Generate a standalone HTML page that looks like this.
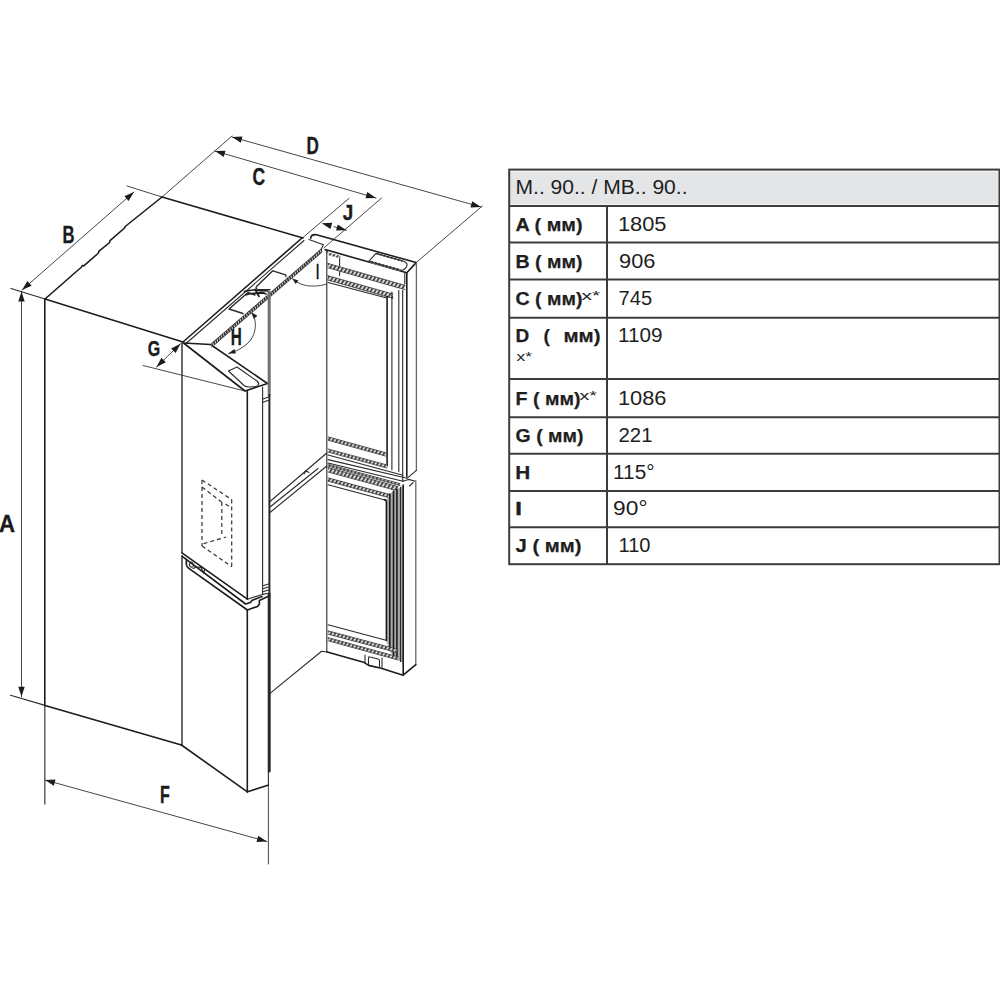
<!DOCTYPE html>
<html><head><meta charset="utf-8">
<style>
html,body{margin:0;padding:0;background:#fff;width:1000px;height:1000px;overflow:hidden}
svg{position:absolute;left:0;top:0}
text{font-family:"Liberation Sans",sans-serif;fill:#1e1e1e}
.lb{font-weight:bold;font-size:19px;stroke:#1e1e1e;stroke-width:0.25}
.vl{font-size:19.5px}
.sup{font-size:12px}
.t{stroke:#484848;stroke-width:1}
.k{stroke:#1c1c1c;stroke-width:1.6}
.m{stroke:#2a2a2a;stroke-width:1.1}
.m2{stroke:#2a2a2a;stroke-width:1.4}
.g{stroke:#222;stroke-width:3.4;stroke-dasharray:1.7 0.8;stroke-linecap:butt}
.g3{stroke:#707070;stroke-width:3}
.fx{stroke:#555;stroke-width:1.4}
.k2{stroke:#2a2a2a;stroke-width:2}
.k3{stroke:#2a2a2a;stroke-width:3}
.gl{stroke:#6a6a6a;stroke-width:1.3}
.hbp{fill:url(#hp);stroke:none}
.hbe{fill:none;stroke:#2a2a2a;stroke-width:0.7}
.h{stroke:#333;stroke-width:2.4;stroke-dasharray:1.5 1.3;stroke-linecap:butt}
.dsh{stroke:#333;stroke-width:1.2;stroke-dasharray:4 3;stroke-linecap:butt}
.ah{fill:#1c1c1c;stroke:none}
.lab{font-weight:bold;fill:#1a1a1a;stroke:#1a1a1a;stroke-width:0.35}
</style></head><body>
<svg width="1000" height="1000" viewBox="0 0 1000 1000">
<defs><pattern id="hp" width="3.6" height="12" patternUnits="userSpaceOnUse" patternTransform="rotate(32)"><rect x="0" y="0" width="1.45" height="12" fill="#2a2a2a"/></pattern><pattern id="hp2" width="2.6" height="12" patternUnits="userSpaceOnUse" patternTransform="rotate(-20)"><rect x="0" y="0" width="1.6" height="12" fill="#262626"/></pattern></defs>
<!-- TABLE -->
<g id="table">
<rect x="509.2" y="169.6" width="490.3" height="36.3" fill="#f3f4f6"/>
<rect x="509.2" y="172" width="490.3" height="31.8" fill="#e4e5e7"/>
<g stroke="#3c3c3c" stroke-width="2" fill="none">
<rect x="509.2" y="169.6" width="490.3" height="394.6"/>
<line x1="509" y1="205.9" x2="1000" y2="205.9"/>
<line x1="509" y1="242.6" x2="1000" y2="242.6"/>
<line x1="509" y1="279.6" x2="1000" y2="279.6"/>
<line x1="509" y1="317.8" x2="1000" y2="317.8"/>
<line x1="509" y1="379" x2="1000" y2="379"/>
<line x1="509" y1="417.2" x2="1000" y2="417.2"/>
<line x1="509" y1="453.8" x2="1000" y2="453.8"/>
<line x1="509" y1="491" x2="1000" y2="491"/>
<line x1="509" y1="527.2" x2="1000" y2="527.2"/>
<line x1="607" y1="206" x2="607" y2="564"/>
</g>
<text class="vl" x="515.5" y="194" textLength="172.0" lengthAdjust="spacingAndGlyphs">M.. 90.. / MB.. 90..</text>
<text class="lb" x="515.5" y="231" textLength="67.0" lengthAdjust="spacingAndGlyphs">A ( мм)</text>
<text class="vl" x="617.9" y="231" textLength="48.6" lengthAdjust="spacingAndGlyphs">1805</text>
<text class="lb" x="515.5" y="267.5" textLength="67.0" lengthAdjust="spacingAndGlyphs">B ( мм)</text>
<text class="vl" x="619.1" y="267.5" textLength="36.4" lengthAdjust="spacingAndGlyphs">906</text>
<text class="lb" x="515.5" y="305" textLength="67.0" lengthAdjust="spacingAndGlyphs">C ( мм)</text>
<text class="sup" x="581.5" y="300" textLength="18.5" lengthAdjust="spacingAndGlyphs">x*</text>
<text class="vl" x="618.5" y="305" textLength="33.6" lengthAdjust="spacingAndGlyphs">745</text>
<text class="lb" x="515.5" y="342">D</text>
<text class="lb" x="543.5" y="342">(</text>
<text class="lb" x="563.5" y="342" textLength="37.0" lengthAdjust="spacingAndGlyphs">мм)</text>
<text class="sup" x="516.5" y="360.5" textLength="15.5" lengthAdjust="spacingAndGlyphs">x*</text>
<text class="vl" x="617.9" y="342" textLength="44.6" lengthAdjust="spacingAndGlyphs">1109</text>
<text class="lb" x="515.5" y="404.5" textLength="65.0" lengthAdjust="spacingAndGlyphs">F ( мм)</text>
<text class="sup" x="579.5" y="399.5" textLength="17.5" lengthAdjust="spacingAndGlyphs">x*</text>
<text class="vl" x="617.9" y="404.5" textLength="48.6" lengthAdjust="spacingAndGlyphs">1086</text>
<text class="lb" x="515.5" y="442" textLength="68.0" lengthAdjust="spacingAndGlyphs">G ( мм)</text>
<text class="vl" x="618.5" y="442" textLength="34.0" lengthAdjust="spacingAndGlyphs">221</text>
<text class="lb" x="515.3" y="479" textLength="15" lengthAdjust="spacingAndGlyphs">H</text>
<text class="vl" x="613.1" y="479" textLength="41.4" lengthAdjust="spacingAndGlyphs">115°</text>
<text class="lb" x="515.2" y="515" textLength="6.6" lengthAdjust="spacingAndGlyphs" style="stroke:#1e1e1e;stroke-width:0.5">I</text>
<text class="vl" x="613.1" y="515" textLength="34.4" lengthAdjust="spacingAndGlyphs">90°</text>
<text class="lb" x="515.5" y="552" textLength="66.0" lengthAdjust="spacingAndGlyphs">J ( мм)</text>
<text class="vl" x="618.5" y="552" textLength="32.0" lengthAdjust="spacingAndGlyphs">110</text>
</g>
<!-- DIAGRAM -->
<g id="diagram" fill="none" stroke-linejoin="round" stroke-linecap="round">
<line class="t" x1="21.5" y1="291.5" x2="21.5" y2="696.8"/>
<path class="ah" d="M21.5,291.5 L24.7,301.5 L18.3,301.5 Z"/>
<path class="ah" d="M21.5,696.8 L18.3,686.8 L24.7,686.8 Z"/>
<line class="m" x1="11.0" y1="288.5" x2="45.0" y2="299.0"/>
<line class="m" x1="10.5" y1="695.2" x2="45.0" y2="705.4"/>
<text class="lab" transform="translate(-1.00,532.00) scale(0.902,1)" font-size="24.64">A</text>
<line class="t" x1="22.0" y1="290.0" x2="134.0" y2="192.0"/>
<path class="ah" d="M22.0,290.0 L27.4,281.0 L31.6,285.8 Z"/>
<path class="ah" d="M134.0,192.0 L128.6,201.0 L124.4,196.2 Z"/>
<line class="t" x1="127.0" y1="186.0" x2="162.0" y2="197.0"/>
<text class="lab" transform="translate(62.50,242.50) scale(0.697,1)" font-size="23.91">B</text>
<line class="t" x1="162.0" y1="197.0" x2="232.0" y2="136.0"/>
<line class="t" x1="215.0" y1="151.0" x2="376.0" y2="198.0"/>
<path class="ah" d="M215.0,151.0 L225.5,150.7 L223.7,156.9 Z"/>
<path class="ah" d="M376.0,198.0 L365.5,198.3 L367.3,192.1 Z"/>
<line class="t" x1="232.0" y1="137.0" x2="481.0" y2="207.0"/>
<path class="ah" d="M232.0,137.0 L242.5,136.6 L240.8,142.8 Z"/>
<path class="ah" d="M481.0,207.0 L470.5,207.4 L472.2,201.2 Z"/>
<line class="t" x1="381.6" y1="198.0" x2="323.8" y2="248.0"/>
<line class="t" x1="482.4" y1="206.0" x2="416.8" y2="262.0"/>
<text class="lab" transform="translate(252.60,185.37) scale(0.748,1)" font-size="23.38">C</text>
<text class="lab" transform="translate(306.50,153.80) scale(0.728,1)" font-size="23.48">D</text>
<line class="t" x1="349.0" y1="198.4" x2="302.8" y2="237.6"/>
<line class="t" x1="334.0" y1="226.7" x2="346.5" y2="230.2"/>
<path class="ah" d="M321.7,223.2 L332.2,222.8 L330.5,229.0 Z"/>
<path class="ah" d="M346.5,230.2 L336.0,230.5 L337.8,224.4 Z"/>
<text class="lab" transform="translate(342.70,219.77) scale(0.828,1)" font-size="22.86">J</text>
<line class="t" x1="45.0" y1="780.0" x2="267.0" y2="841.5"/>
<path class="ah" d="M45.0,780.0 L55.5,779.6 L53.8,785.8 Z"/>
<path class="ah" d="M267.0,841.5 L256.5,841.9 L258.2,835.7 Z"/>
<line class="fx" x1="44.8" y1="705.4" x2="44.8" y2="804.0"/>
<line class="t" x1="268.4" y1="785.0" x2="268.4" y2="864.0"/>
<text class="lab" transform="translate(160.00,803.10) scale(0.672,1)" font-size="23.91">F</text>
<line class="t" x1="143.0" y1="365.5" x2="245.0" y2="391.0"/>
<line class="t" x1="180.5" y1="343.7" x2="156.5" y2="367.0"/>
<path class="ah" d="M180.5,343.7 L175.6,353.0 L171.1,348.4 Z"/>
<path class="ah" d="M156.5,367.0 L161.4,357.7 L165.9,362.3 Z"/>
<text class="lab" transform="translate(147.80,355.58) scale(0.716,1)" font-size="22.39">G</text>
<path class="t" d="M251,312 C257,318 258,334 247,344 C241,349 235,352 228.5,353.5" />
<path class="ah" d="M251.0,312.0 L257.4,315.7 L253.8,318.8 Z"/>
<path class="ah" d="M228.5,353.5 L234.4,349.0 L235.9,353.6 Z"/>
<text class="lab" transform="translate(230.80,344.50) scale(0.651,1)" font-size="23.48">H</text>
<path class="t" d="M292.3,278.6 C296,282 300,284 304,285 C310,286.6 318,286.5 326.5,284.2" />
<path class="ah" d="M292.3,278.6 L298.4,280.5 L295.7,284.0 Z"/>
<text class="lab" transform="translate(316.00,278.60) scale(0.519,1)" font-size="22.03">I</text>
<line class="k" x1="45.0" y1="299.0" x2="183.0" y2="342.0"/>
<line class="k" x1="45.0" y1="705.4" x2="181.4" y2="745.0"/>
<line class="k" x1="44.8" y1="299.0" x2="44.8" y2="705.4"/>
<line class="m2" x1="182.0" y1="555.8" x2="182.0" y2="745.0"/>
<path class="k" d="M45,299 L81,267.5 q1,-0.5 1.2,-2 q1,-0.2 1.6,0.4 L98,253.5 q0.6,-0.6 0.8,-2.2 L109,243 q0.8,-0.6 1,-2.4 L124,228.5 q0.8,-0.4 1.2,-2 L162,197" />
<line class="k" x1="162.0" y1="197.0" x2="303.0" y2="238.0"/>
<line class="k" x1="183.0" y1="342.0" x2="302.0" y2="238.0"/>
<line class="m" x1="186.0" y1="343.5" x2="304.0" y2="240.5"/>
<path class="k" d="M183.5,343.0 L245.0,391.0 L267.5,383.5 L210.5,344.5 Z" />
<path fill="#d8d8d8" d="M211.6,343.3 L322.0,248.2 L322.0,252.2 L211.6,347.3 Z"/>
<path fill="url(#hp2)" d="M211.6,343.3 L322.0,248.2 L322.0,252.2 L211.6,347.3 Z"/>
<path class="hbe" d="M211.6,343.3 L322.0,248.2 M211.6,347.3 L322.0,252.2"/>
<path class="m" d="M309.0,239.4 L323.4,244.8 L321.0,249.5" />
<path class="m2" d="M229,309 L248,292.5 L255,295 M229,309 L243,313.5" />
<path class="m2" d="M256.5,286.5 Q255,289 258.5,289.6 L270,289.6 M256.5,286.5 L272.8,270.8 L285.6,274.8 L286,276.5" />
<path class="k" d="M244.5,291.5 Q252,289 258,290.5 L268,291 M246,294.8 Q252,292.5 258,293.5 L264,293 M255,289.5 L259,296.5 M258,293 Q262,292 266,294" />
<path class="m" d="M228.5,371 L237,367 L257,381 Q261,385 256,386.5 L249,387 Q246,387 244,385.5 Z" />
<line class="k" x1="247.3" y1="391.0" x2="247.3" y2="599.2"/>
<line class="k" x1="247.3" y1="610.0" x2="247.3" y2="792.0"/>
<line class="m" x1="262.6" y1="387.0" x2="262.6" y2="594.4"/>
<line class="g3" x1="269.2" y1="292.0" x2="269.2" y2="395.0"/>
<line class="k2" x1="269.4" y1="395.0" x2="269.4" y2="594.0"/>
<line class="k3" x1="269.2" y1="594.0" x2="269.2" y2="771.0"/>
<line class="m" x1="268.4" y1="771.0" x2="268.4" y2="785.0"/>
<path class="m" d="M263.0,399.0 L268.5,397.0" />
<path class="m" d="M263.0,402.2 L268.5,400.2" />
<path class="m" d="M263.6,585.6 L268.4,584.0" />
<path class="m" d="M263.6,588.6 L268.4,587.0" />
<path class="m" d="M263.6,591.6 L268.4,590.0" />
<line class="m2" x1="182.0" y1="342.0" x2="182.0" y2="552.8"/>
<line class="k" x1="181.9" y1="552.8" x2="247.4" y2="599.2"/>
<path class="m" d="M247.4,599.2 L262.4,594.4 L268.4,593.2" />
<path class="k" d="M182.2,556.4 L245.6,604.0 L250.4,602.4 L252.2,600.2 L262.0,596.6" />
<path class="k" d="M186.5,559.6 Q185.5,566 188.5,568.2 L247.4,610" />
<path class="k" d="M247.4,610.0 L257.6,606.4 L259.4,604.0 L259.4,600.4 L268.4,596.2" />
<path class="m" d="M191,562 Q188.5,564 190,566.5 Q192,568 193.5,566 Q194,563 191,562 Z" />
<path class="m" d="M193,568.5 Q198,566 203.5,568 M200.5,566.5 L204,573.5 L204.5,569" />
<line class="k" x1="181.4" y1="745.0" x2="247.4" y2="791.8"/>
<line class="k" x1="247.4" y1="791.8" x2="268.0" y2="785.2"/>
<path class="dsh" d="M202,480 L202,546" />
<path class="dsh" d="M202,480 L231.7,499.6" />
<path class="dsh" d="M231.7,499.6 L231.7,566.7" />
<path class="dsh" d="M202,546 L231.7,566.7" />
<path class="dsh" d="M202,487 L221.5,502" />
<path class="dsh" d="M221.8,502 L221.8,536" />
<path class="dsh" d="M203.6,543.6 L226.2,537" />
<path class="dsh" d="M225.5,504 L230.5,507.5" />
<line class="m" x1="326.8" y1="251.0" x2="326.8" y2="652.0"/>
<line class="m" x1="270.0" y1="501.5" x2="326.8" y2="453.0"/>
<line class="m" x1="270.0" y1="507.0" x2="318.0" y2="468.5"/>
<line class="m" x1="270.0" y1="512.5" x2="326.8" y2="466.0"/>
<path class="m" d="M304,474 q1,-3 3,-2.5 l2,1" />
<path class="m" d="M268.8,694.4 L321.6,651.2 L327.2,652.0" />
<path class="k" d="M310.8,238.2 Q311,234.4 315.6,234.6 L416.2,262.6 L406.8,272.8 L325.2,249.6" />
<line class="m" x1="325.2" y1="249.6" x2="327.6" y2="252.2"/>
<path fill="#d8d8d8" d="M376.5,252.6 L402.5,259.9 L402.5,261.9 L376.5,254.6 Z"/>
<path fill="url(#hp)" d="M376.5,252.6 L402.5,259.9 L402.5,261.9 L376.5,254.6 Z"/>
<path fill="#d8d8d8" d="M370.0,260.5 L400.5,269.0 L400.5,271.0 L370.0,262.5 Z"/>
<path fill="url(#hp)" d="M370.0,260.5 L400.5,269.0 L400.5,271.0 L370.0,262.5 Z"/>
<path class="m" d="M369,261.2 L376,253.4 L403,261 Q408.5,262.8 406.5,266.8 Q404.5,270.6 400.5,270.2 Z" />
<line class="m" x1="404.8" y1="273.0" x2="404.8" y2="284.0"/>
<line class="m" x1="339.6" y1="256.2" x2="339.6" y2="275.4"/>
<line class="k" x1="406.8" y1="272.8" x2="406.8" y2="476.4"/>
<line class="gl" x1="416.4" y1="262.8" x2="416.4" y2="470.4"/>
<path fill="#d8d8d8" d="M328.0,252.3 L339.5,255.7 L339.5,258.3 L328.0,254.9 Z"/>
<path fill="url(#hp)" d="M328.0,252.3 L339.5,255.7 L339.5,258.3 L328.0,254.9 Z"/>
<path fill="#d8d8d8" d="M327.6,263.3 L405.0,285.3 L405.0,289.7 L327.6,267.7 Z"/>
<path fill="url(#hp)" d="M327.6,263.3 L405.0,285.3 L405.0,289.7 L327.6,267.7 Z"/>
<path class="hbe" d="M327.6,263.3 L405.0,285.3 M327.6,267.7 L405.0,289.7"/>
<path fill="#d8d8d8" d="M327.6,275.6 L393.0,294.0 L393.0,298.4 L327.6,280.0 Z"/>
<path fill="url(#hp)" d="M327.6,275.6 L393.0,294.0 L393.0,298.4 L327.6,280.0 Z"/>
<path class="hbe" d="M327.6,275.6 L393.0,294.0 M327.6,280.0 L393.0,298.4"/>
<line class="m" x1="328.0" y1="282.5" x2="386.8" y2="298.0"/>
<line class="k" x1="387.1" y1="296.5" x2="387.1" y2="466.0"/>
<line class="m" x1="391.9" y1="292.0" x2="391.9" y2="469.8"/>
<line class="m" x1="398.8" y1="290.6" x2="398.8" y2="471.6"/>
<line class="m" x1="402.7" y1="290.5" x2="402.7" y2="481.0"/>
<path fill="#d8d8d8" d="M328.0,436.8 L386.0,452.8 L386.0,456.2 L328.0,440.2 Z"/>
<path fill="url(#hp)" d="M328.0,436.8 L386.0,452.8 L386.0,456.2 L328.0,440.2 Z"/>
<path class="hbe" d="M328.0,436.8 L386.0,452.8 M328.0,440.2 L386.0,456.2"/>
<path fill="#d8d8d8" d="M328.0,448.9 L387.0,464.9 L387.0,468.1 L328.0,452.1 Z"/>
<path fill="url(#hp)" d="M328.0,448.9 L387.0,464.9 L387.0,468.1 L328.0,452.1 Z"/>
<path class="hbe" d="M328.0,448.9 L387.0,464.9 M328.0,452.1 L387.0,468.1"/>
<line class="m" x1="328.0" y1="455.0" x2="403.0" y2="475.2"/>
<line class="m" x1="328.0" y1="459.6" x2="407.2" y2="478.2"/>
<path class="m" d="M407.2,478.2 L416.4,470.4" />
<line class="m" x1="328.0" y1="463.0" x2="403.0" y2="481.2"/>
<path class="m" d="M403.0,481.2 L408.4,479.4 L415.6,481.2" />
<path class="m" d="M409.6,486.0 L413.2,482.4" />
<path fill="#d8d8d8" d="M328.0,464.2 L400.0,483.6 L400.0,485.6 L328.0,466.2 Z"/>
<path fill="url(#hp)" d="M328.0,464.2 L400.0,483.6 L400.0,485.6 L328.0,466.2 Z"/>
<path class="hbe" d="M328.0,464.2 L400.0,483.6 M328.0,466.2 L400.0,485.6"/>
<path fill="#d8d8d8" d="M328.0,467.6 L398.0,486.6 L398.0,491.0 L328.0,472.0 Z"/>
<path fill="url(#hp)" d="M328.0,467.6 L398.0,486.6 L398.0,491.0 L328.0,472.0 Z"/>
<path class="hbe" d="M328.0,467.6 L398.0,486.6 M328.0,472.0 L398.0,491.0"/>
<path fill="#d8d8d8" d="M328.0,477.8 L392.0,495.1 L392.0,498.5 L328.0,481.2 Z"/>
<path fill="url(#hp)" d="M328.0,477.8 L392.0,495.1 L392.0,498.5 L328.0,481.2 Z"/>
<path class="hbe" d="M328.0,477.8 L392.0,495.1 M328.0,481.2 L392.0,498.5"/>
<line class="m" x1="328.0" y1="484.8" x2="386.8" y2="500.5"/>
<path d="M386.4,500 L390,494 L393.6,491 L397.2,489.2 L400.8,487.4 L403.2,485 L403.2,663 L400.8,662 L397.2,659 L393.6,656 L390,651.5 L386.4,641 Z" fill="#a8a8a8"/>
<path class="k" d="M386.4,640.4 L386.4,502 Q386.4,500 384.5,499.6" />
<line class="k" x1="389.8" y1="494.0" x2="389.8" y2="650.0"/>
<line class="k" x1="393.5" y1="491.0" x2="393.5" y2="655.0"/>
<line class="k" x1="396.9" y1="489.2" x2="396.9" y2="658.5"/>
<line class="m" x1="400.5" y1="487.4" x2="400.5" y2="661.5"/>
<line class="k" x1="403.2" y1="485.0" x2="403.2" y2="674.6"/>
<line class="gl" x1="415.8" y1="481.0" x2="415.8" y2="664.7"/>
<line class="m" x1="328.0" y1="624.8" x2="386.0" y2="640.2"/>
<path fill="#d8d8d8" d="M328.0,630.8 L396.6,649.0 L396.6,652.4 L328.0,634.2 Z"/>
<path fill="url(#hp)" d="M328.0,630.8 L396.6,649.0 L396.6,652.4 L328.0,634.2 Z"/>
<path class="hbe" d="M328.0,630.8 L396.6,649.0 M328.0,634.2 L396.6,652.4"/>
<path fill="#d8d8d8" d="M328.0,637.6 L398.0,656.8 L398.0,660.0 L328.0,640.8 Z"/>
<path fill="url(#hp)" d="M328.0,637.6 L398.0,656.8 L398.0,660.0 L328.0,640.8 Z"/>
<path class="hbe" d="M328.0,637.6 L398.0,656.8 M328.0,640.8 L398.0,660.0"/>
<path class="k" d="M327.2,652.1 L364.4,662.6 L368.6,665.4 L381.2,668.2 L403.1,675.2 L415.8,664.7" />
<path class="m" d="M365,655 L365,663 M382,658 L382,668 M368.5,664.5 L368.5,658 Q368.5,656.5 370,657 L378,659 Q379.5,659.5 379.5,661 L379.5,667" />
</g>
</svg>
</body></html>
